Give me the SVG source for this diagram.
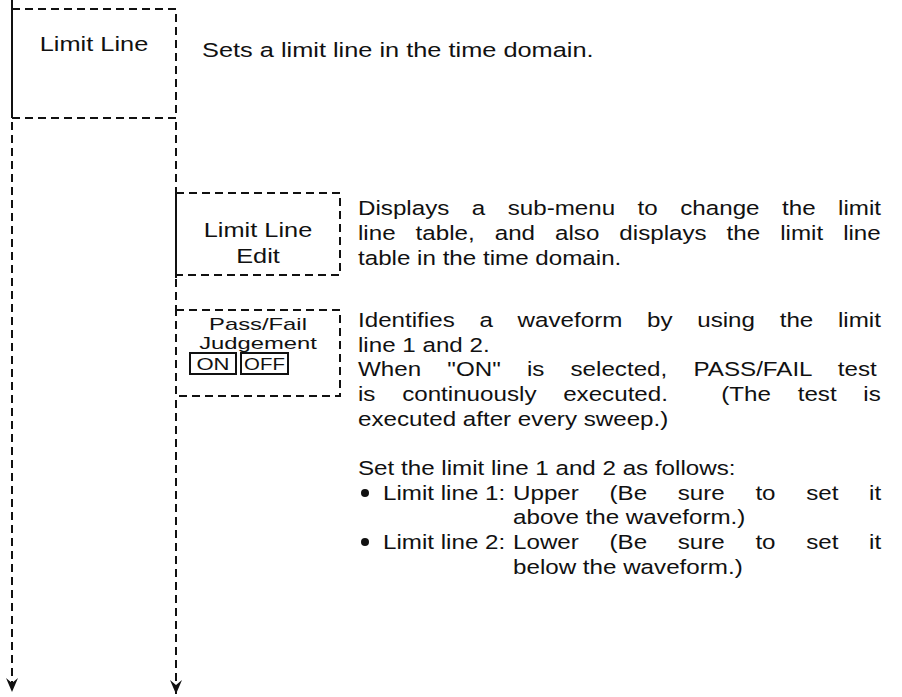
<svg xmlns="http://www.w3.org/2000/svg" width="902" height="697" viewBox="0 0 902 697">
<defs>
<style>
.d{stroke:#111;stroke-width:2;fill:none;stroke-dasharray:8 5}
.s{stroke:#111;stroke-width:2;fill:none}
.t{font-family:"Liberation Sans",Arial,Helvetica,sans-serif;font-size:19.5px;fill:#111}
.b{font-size:17px}
.c{text-anchor:middle}
.p{white-space:pre}
</style>
<marker id="arr" viewBox="0 0 14 12" refX="14" refY="6" markerWidth="14" markerHeight="12" markerUnits="userSpaceOnUse" orient="auto">
<path d="M0,0 L5,6 L0,12 L14,6 Z" fill="#111"/>
</marker>
</defs>
<rect width="902" height="697" fill="#fff"/>
<g id="connectors">
<line class="d" x1="12" y1="122" x2="12" y2="692" marker-end="url(#arr)"/>
<line class="d" x1="176" y1="122" x2="176" y2="193"/>
<line class="d" x1="176" y1="279" x2="176" y2="310"/>
<line class="d" x1="176" y1="400" x2="176" y2="694" marker-end="url(#arr)"/>
</g>
<g id="node-limit-line">
<line class="s" x1="12" y1="0" x2="12" y2="118"/>
<path class="d" d="M12,9 H176 V118 H12"/>
<text class="t c" transform="translate(94,51) scale(1.3,1)">Limit Line</text>
</g>
<g id="node-limit-line-edit">
<line class="s" x1="176" y1="193" x2="176" y2="278"/>
<path class="d" d="M176,193 H340 V275 H176"/>
<text class="t c" transform="translate(258,237) scale(1.3,1)">Limit Line</text>
<text class="t c" transform="translate(258,263) scale(1.3,1)">Edit</text>
</g>
<g id="node-pass-fail">
<rect class="d" x="176" y="310" width="164" height="86"/>
<text class="t b c" transform="translate(258,330) scale(1.4,1)">Pass/Fail</text>
<text class="t b c" transform="translate(258,349) scale(1.4,1)">Judgement</text>
<rect class="s" x="190" y="353" width="46" height="21" stroke-width="1.5"/>
<rect class="s" x="241" y="353" width="47" height="21" stroke-width="1.5"/>
<text class="t b c" transform="translate(213,370) scale(1.3,1)">ON</text>
<text class="t b c" transform="translate(264.5,370) scale(1.2,1)">OFF</text>
</g>
<g id="descriptions">
<text class="t" transform="translate(202,57) scale(1.3,1)">Sets a limit line in the time domain.</text>
<text class="t" transform="translate(358,215) scale(1.24,1)" word-spacing="12.7">Displays a sub-menu to change the limit</text>
<text class="t" transform="translate(358,240) scale(1.24,1)" word-spacing="10.7">line table, and also displays the limit line</text>
<text class="t" transform="translate(358,265) scale(1.24,1)">table in the time domain.</text>
<text class="t" transform="translate(358,327) scale(1.24,1)" word-spacing="14.5">Identifies a waveform by using the limit</text>
<text class="t" transform="translate(358,352) scale(1.24,1)">line 1 and 2.</text>
<text class="t" transform="translate(358,376) scale(1.24,1)" word-spacing="15.7">When "ON" is selected, PASS/FAIL test</text>
<text class="t p" transform="translate(358,401) scale(1.24,1)" word-spacing="16.1">is continuously executed.  (The test is</text>
<text class="t" transform="translate(358,426) scale(1.24,1)">executed after every sweep.)</text>
<text class="t" transform="translate(358,475) scale(1.24,1)">Set the limit line 1 and 2 as follows:</text>
<circle cx="365" cy="493" r="4" fill="#111"/>
<text class="t" transform="translate(383,500) scale(1.24,1)">Limit line 1:</text>
<text class="t" transform="translate(513,500) scale(1.24,1)" word-spacing="19.3">Upper (Be sure to set it</text>
<text class="t" transform="translate(513,524) scale(1.24,1)">above the waveform.)</text>
<circle cx="365" cy="542" r="4" fill="#111"/>
<text class="t" transform="translate(383,549) scale(1.24,1)">Limit line 2:</text>
<text class="t" transform="translate(513,549) scale(1.24,1)" word-spacing="19.3">Lower (Be sure to set it</text>
<text class="t" transform="translate(513,574) scale(1.24,1)">below the waveform.)</text>
</g>
</svg>
